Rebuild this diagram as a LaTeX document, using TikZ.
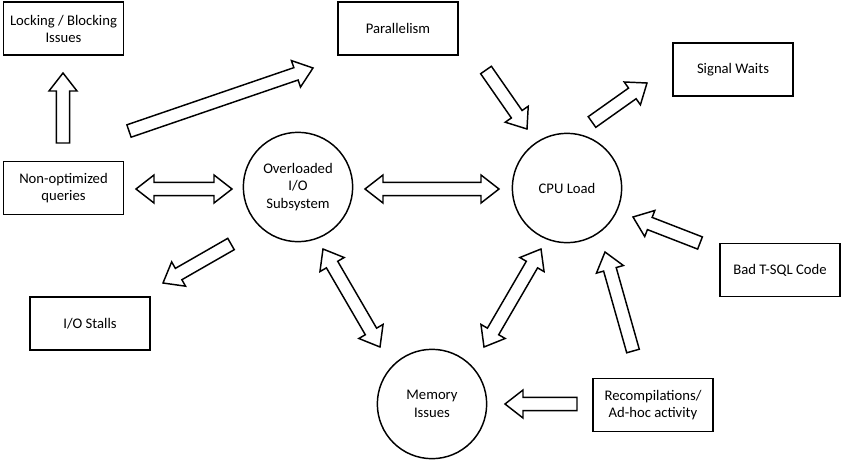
\documentclass[tikz,border=0pt]{standalone}
\usepackage{fontspec}
\setmainfont{Carlito}
\usetikzlibrary{calc}
\def\sw{4.9pt}
\def\hw{10.5pt}
\def\hl{13.5pt}
\tikzset{
  box/.style={draw, line width=1.1pt, rectangle, minimum width=90pt, minimum height=40pt, align=center, font=\fontsize{11}{12.75}\selectfont, inner sep=2pt},
  circ/.style={draw, line width=1.1pt, circle, minimum size=82pt, inner sep=0pt, align=center, font=\fontsize{11}{13}\selectfont},
  blk/.style={draw, line width=1.1pt, fill=white, line join=miter}
}
% single block arrow from #1 (tail) to #2 (tip)
\newcommand\blkarrow[2]{%
  \coordinate (h) at ($(#2)!\hl!(#1)$);
  \draw[blk] ($(#1)!\sw!90:(#2)$) -- ($(h)!\sw!-90:(#1)$) -- ($(h)!\hw!-90:(#1)$) -- (#2)
    -- ($(h)!\hw!90:(#1)$) -- ($(h)!\sw!90:(#1)$) -- ($(#1)!\sw!-90:(#2)$) -- cycle;
}
% double block arrow between #1 and #2
\newcommand\dblarrow[2]{%
  \coordinate (ha) at ($(#1)!\hl!(#2)$);
  \coordinate (hb) at ($(#2)!\hl!(#1)$);
  \draw[blk] (#1) -- ($(ha)!\hw!90:(#2)$) -- ($(ha)!\sw!90:(#2)$) -- ($(hb)!\sw!-90:(#1)$)
    -- ($(hb)!\hw!-90:(#1)$) -- (#2) -- ($(hb)!\hw!90:(#1)$) -- ($(hb)!\sw!90:(#1)$)
    -- ($(ha)!\sw!-90:(#2)$) -- ($(ha)!\hw!-90:(#2)$) -- cycle;
}
\begin{document}
\begin{tikzpicture}[x=0.75pt, y=-0.75pt]
\useasboundingbox[fill=white] (0,0) rectangle (845,464);
% boxes
\node[box] (lock) at (63.5,28.5) {Locking / Blocking\\Issues};
\node[box] (par) at (398,28.5) {Parallelism};
\node[box] (sig) at (733,69.5) {Signal Waits};
\node[box] (nonopt) at (63.5,188) {Non-optimized\\queries};
\node[box] (stalls) at (90,323.5) {I/O Stalls};
\node[box] (bad) at (780,270) {Bad T-SQL Code};
\node[box] (recomp) at (653,405) {Recompilations/\\Ad-hoc activity};
% circles
\node[circ] (io) at (298,187) {Overloaded\\I/O\\Subsystem};
\node[circ] (cpu) at (567,188) {CPU Load};
\node[circ] (mem) at (432,404) {Memory\\Issues};
% arrow end points
\coordinate (a1t) at (63,143);  \coordinate (a1h) at (63,73);
\coordinate (a2t) at (129,131); \coordinate (a2h) at (313,68);
\coordinate (a3a) at (136,189); \coordinate (a3b) at (232,189);
\coordinate (a4a) at (365,189); \coordinate (a4b) at (499,189);
\coordinate (a5t) at (486,70);  \coordinate (a5h) at (527,129);
\coordinate (a6t) at (592,122); \coordinate (a6h) at (647,83);
\coordinate (a7t) at (700,243); \coordinate (a7h) at (633,217);
\coordinate (a8t) at (633,351); \coordinate (a8h) at (605,252);
\coordinate (a9t) at (577,404); \coordinate (a9h) at (505,404);
\coordinate (a10a) at (323,249); \coordinate (a10b) at (380,347);
\coordinate (a11a) at (541,249); \coordinate (a11b) at (484,347);
\coordinate (a12t) at (231,244); \coordinate (a12h) at (163,283);
% arrows
\blkarrow{a1t}{a1h}
\blkarrow{a2t}{a2h}
\dblarrow{a3a}{a3b}
\dblarrow{a4a}{a4b}
\blkarrow{a5t}{a5h}
\blkarrow{a6t}{a6h}
\blkarrow{a7t}{a7h}
\blkarrow{a8t}{a8h}
\blkarrow{a9t}{a9h}
\dblarrow{a10a}{a10b}
\dblarrow{a11a}{a11b}
\blkarrow{a12t}{a12h}
\end{tikzpicture}
\end{document}
